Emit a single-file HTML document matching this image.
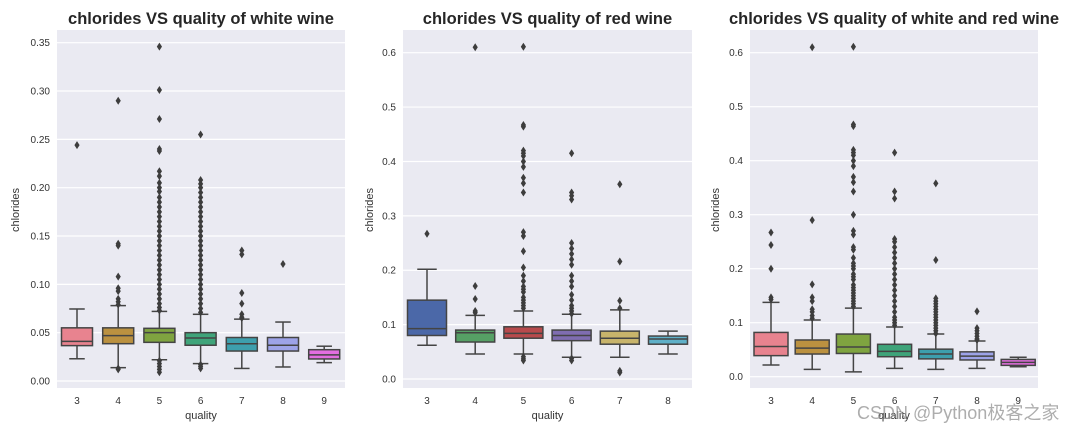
<!DOCTYPE html>
<html><head><meta charset="utf-8">
<style>
html,body{margin:0;padding:0;background:#fff;}
svg{display:block;font-family:"Liberation Sans","Noto Sans CJK SC",sans-serif;}
</style></head>
<body>
<svg id="chart" width="1080" height="433" viewBox="0 0 1080 433" xmlns="http://www.w3.org/2000/svg"></svg>
<script>
// ---- Panel 1: white wine ----
const whiteCats = ["3","4","5","6","7","8","9"];
const whiteQ1 = [0.0366,0.0386,0.040,0.037,0.031,0.031,0.0228];
const whiteMed = [0.041,0.047,0.050,0.0445,0.0386,0.037,0.027];
const whiteQ3 = [0.055,0.055,0.0545,0.050,0.045,0.045,0.0324];
const whiteLo = [0.023,0.0138,0.022,0.018,0.013,0.0145,0.019];
const whiteHi = [0.0745,0.078,0.072,0.069,0.064,0.061,0.036];
const whiteOut = [
  [0.244],
  [0.29,0.142,0.140,0.108,0.096,0.093,0.085,0.082,0.079,0.012,0.013],
  [0.346,0.301,0.271,0.24,0.238,0.217,0.212,0.205,0.2,0.196,0.19,0.185,0.18,0.175,0.17,0.165,0.16,0.155,0.15,0.145,0.14,0.135,0.13,0.125,0.12,0.115,0.11,0.105,0.1,0.095,0.09,0.085,0.08,0.076,0.073,0.021,0.018,0.015,0.012,0.009],
  [0.255,0.208,0.204,0.2,0.195,0.19,0.185,0.18,0.175,0.17,0.165,0.16,0.155,0.15,0.145,0.14,0.135,0.13,0.125,0.12,0.115,0.11,0.105,0.1,0.095,0.09,0.085,0.08,0.075,0.071,0.017,0.015,0.013],
  [0.135,0.131,0.091,0.080,0.069,0.066,0.065],
  [0.121],
  []
];
const whiteTicks = [0,0.05,0.10,0.15,0.20,0.25,0.30,0.35];
const whiteTickLabels = ["0.00","0.05","0.10","0.15","0.20","0.25","0.30","0.35"];
const whiteColors = ['#e8838f','#bb9140','#7fa440','#3fa47a','#3d9fad','#9da3e8','#e36ee0'];

// ---- Panel 2: red wine ----
const redCats = ["3","4","5","6","7","8"];
const redQ1 = [0.080,0.068,0.075,0.0705,0.064,0.064];
const redMed = [0.0926,0.085,0.084,0.080,0.075,0.0735];
const redQ3 = [0.145,0.090,0.096,0.090,0.088,0.079];
const redLo = [0.062,0.046,0.046,0.040,0.040,0.046];
const redHi = [0.2017,0.117,0.125,0.119,0.127,0.088];
const redOut = [
  [0.267],
  [0.61,0.171,0.147,0.125,0.122],
  [0.611,0.467,0.464,0.42,0.415,0.41,0.40,0.39,0.37,0.36,0.343,0.27,0.263,0.235,0.205,0.19,0.18,0.17,0.165,0.16,0.15,0.145,0.14,0.135,0.13,0.041,0.037,0.034],
  [0.415,0.343,0.337,0.33,0.25,0.24,0.23,0.22,0.21,0.19,0.18,0.17,0.155,0.145,0.135,0.13,0.125,0.12,0.038,0.034],
  [0.358,0.216,0.144,0.13,0.015,0.012],
  []
];
const redTicks = [0,0.1,0.2,0.3,0.4,0.5,0.6];
const redTickLabels = ["0.0","0.1","0.2","0.3","0.4","0.5","0.6"];
const redColors = ['#4b68a8','#56a065','#b84a4c','#7f6db0','#c8b46b','#5fb0c8'];

// ---- Panel 3: white and red ----
const allCats = ["3","4","5","6","7","8","9"];
const allQ1 = [0.039,0.042,0.043,0.037,0.033,0.031,0.021];
const allMed = [0.056,0.053,0.055,0.047,0.042,0.038,0.0265];
const allQ3 = [0.082,0.068,0.079,0.060,0.051,0.046,0.032];
const allLo = [0.0216,0.0136,0.009,0.0154,0.0136,0.0154,0.0185];
const allHi = [0.1376,0.105,0.127,0.092,0.079,0.066,0.036];
const allOut = [
  [0.267,0.244,0.2,0.147,0.143],
  [0.61,0.29,0.171,0.147,0.14,0.125,0.12,0.113,0.108],
  [0.611,0.467,0.464,0.42,0.415,0.41,0.40,0.39,0.37,0.36,0.343,0.30,0.27,0.263,0.24,0.235,0.22,0.21,0.205,0.2,0.19,0.185,0.18,0.17,0.165,0.16,0.155,0.15,0.145,0.14,0.135,0.13],
  [0.415,0.343,0.33,0.255,0.25,0.24,0.23,0.22,0.21,0.2,0.19,0.18,0.17,0.16,0.15,0.14,0.13,0.12,0.11,0.105,0.1,0.095],
  [0.358,0.216,0.145,0.14,0.135,0.13,0.125,0.12,0.115,0.11,0.105,0.1,0.095,0.09,0.085,0.08],
  [0.121,0.09,0.085,0.08,0.075,0.07,0.068],
  []
];
const allTicks = [0,0.1,0.2,0.3,0.4,0.5,0.6];
const allTickLabels = ["0.0","0.1","0.2","0.3","0.4","0.5","0.6"];
const allColors = ['#e8838f','#bb9140','#7fa440','#3fa47a','#3d9fad','#9da3e8','#e36ee0'];

const NS = "http://www.w3.org/2000/svg";
const svg = document.getElementById('chart');
function mk(tag, attrs, parent){
  const e = document.createElementNS(NS, tag);
  for (const k in attrs) e.setAttribute(k, attrs[k]);
  (parent||svg).appendChild(e);
  return e;
}

function panel(cfg){
  const g = mk('g', {});
  
  
  const y = v => cfg.y0 - (v - 0) * (cfg.y0 - cfg.yTop) / cfg.vTop;
  const xc = i => cfg.cx0 + i * cfg.step;
  const bg = mk('rect', {x:cfg.left, y:30, width:cfg.right-cfg.left, height:358, fill:'#eaeaf2'}, g);
  
  
  cfg.ticks.forEach((t, i) => {
    const gl = mk('line', {x1:cfg.left, x2:cfg.right, y1:y(t), y2:y(t), stroke:'#fff', 'stroke-width':1.2}, g);
    
    
    const tl = mk('text', {x:cfg.left-7, y:y(t)+3.5, 'text-anchor':'end', 'font-size':10, fill:'#333'}, g);
    tl.textContent = cfg.tickLabels[i];
    
    
  });
  cfg.cats.forEach((c, i) => {
    const x = xc(i), w = cfg.bw;
    const wl = mk('line', {x1:x, x2:x, y1:y(cfg.hi[i]), y2:y(cfg.q3[i]), stroke:'#444', 'stroke-width':1.5}, g);
    
    
    const wl2 = mk('line', {x1:x, x2:x, y1:y(cfg.q1[i]), y2:y(cfg.lo[i]), stroke:'#444', 'stroke-width':1.5}, g);
    
    
    [cfg.hi[i], cfg.lo[i]].forEach(v => {
      const cap = mk('line', {x1:x-w/4, x2:x+w/4, y1:y(v), y2:y(v), stroke:'#444', 'stroke-width':1.5}, g);
      
      
    });
    const box = mk('rect', {x:x-w/2, y:y(cfg.q3[i]), width:w, height:y(cfg.q1[i])-y(cfg.q3[i]), fill:cfg.colors[i], stroke:'#444', 'stroke-width':1.5}, g);
    
    
    const md = mk('line', {x1:x-w/2, x2:x+w/2, y1:y(cfg.med[i]), y2:y(cfg.med[i]), stroke:'#444', 'stroke-width':1.5}, g);
    
    
    cfg.out[i].forEach(v => {
      const yy = y(v);
      const d = mk('polygon', {points:`${x},${yy-4} ${x+2.6},${yy} ${x},${yy+4} ${x-2.6},${yy}`, fill:'#3d3d3d'}, g);
      
      
    });
    const xl = mk('text', {x:x, y:404, 'text-anchor':'middle', 'font-size':10, fill:'#333'}, g);
    xl.textContent = c;
    
    
  });
  const cx = (cfg.left + cfg.right) / 2;
  const t = mk('text', {x:cx, y:24, 'text-anchor':'middle', 'font-size':16.5, 'font-weight':'bold', fill:'#262626'}, g);
  t.textContent = cfg.title;
  
  
  const xt = mk('text', {x:cx, y:419, 'text-anchor':'middle', 'font-size':11, fill:'#333'}, g);
  xt.textContent = 'quality';
  
  
  const yt = mk('text', {x:0, y:0, 'text-anchor':'middle', 'font-size':11, fill:'#333', transform:`translate(${cfg.ylabX},210) rotate(-90)`}, g);
  yt.textContent = 'chlorides';
  
  
}

panel({name:'white-wine-panel', title:'chlorides VS quality of white wine', left:57, right:345, y0:381, yTop:42.7, vTop:0.35,
  cx0:77, step:41.2, bw:31, ylabX:19, cats:whiteCats, q1:whiteQ1, med:whiteMed, q3:whiteQ3, lo:whiteLo, hi:whiteHi, out:whiteOut,
  ticks:whiteTicks, tickLabels:whiteTickLabels, colors:whiteColors});
panel({name:'red-wine-panel', title:'chlorides VS quality of red wine', left:403, right:692, y0:379, yTop:52.7, vTop:0.6,
  cx0:427, step:48.2, bw:39, ylabX:373, cats:redCats, q1:redQ1, med:redMed, q3:redQ3, lo:redLo, hi:redHi, out:redOut,
  ticks:redTicks, tickLabels:redTickLabels, colors:redColors});
panel({name:'combined-wine-panel', title:'chlorides VS quality of white and red wine', left:750, right:1038, y0:376.7, yTop:52.7, vTop:0.6,
  cx0:771, step:41.2, bw:34, ylabX:719, cats:allCats, q1:allQ1, med:allMed, q3:allQ3, lo:allLo, hi:allHi, out:allOut,
  ticks:allTicks, tickLabels:allTickLabels, colors:allColors});

const wm = mk('text', {x:857, y:419, 'font-size':18, fill:'#999', 'fill-opacity':0.8});
wm.textContent = 'CSDN @Python极客之家';


</script>
</body></html>
